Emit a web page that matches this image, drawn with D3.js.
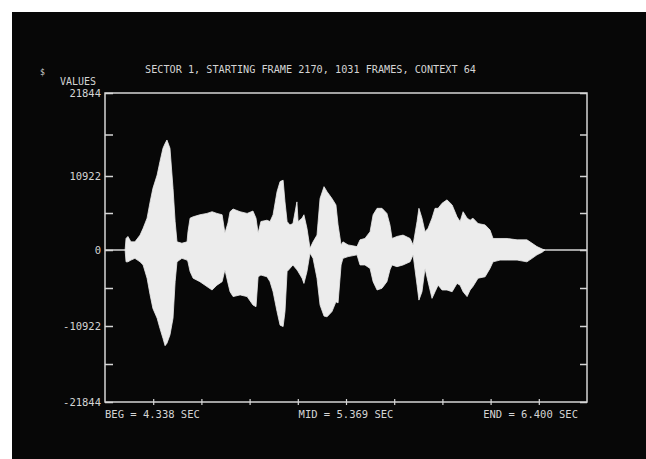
<!DOCTYPE html>
<html>
<head>
<meta charset="utf-8">
<script src="https://cdn.jsdelivr.net/npm/d3@7"></script>
<style>
  html, body { margin: 0; padding: 0; background: #fff; overflow: hidden; }
  svg { display: block; }
  text { font-family: "DejaVu Sans Mono", "Liberation Mono", monospace; fill: #d4d4d4; -webkit-font-smoothing: antialiased; }
</style>
</head>
<body>
<script>
// waveform envelope (seconds, sample values)
var times = [4.424, 4.428, 4.436, 4.449, 4.466, 4.488, 4.501, 4.518, 4.531, 4.543, 4.561, 4.573, 4.586, 4.595, 4.603,
  4.616, 4.629, 4.638, 4.646, 4.667, 4.689, 4.693, 4.702, 4.715, 4.744, 4.774, 4.796, 4.817, 4.839, 4.851, 4.864,
  4.873, 4.886, 4.916, 4.946, 4.971, 4.984, 4.993, 5.005, 5.031, 5.044, 5.057, 5.074, 5.087, 5.100, 5.108, 5.117,
  5.129, 5.142, 5.159, 5.164, 5.181, 5.189, 5.202, 5.215, 5.228, 5.245, 5.258, 5.275, 5.288, 5.309, 5.326, 5.335,
  5.348, 5.356, 5.378, 5.416, 5.429, 5.450, 5.472, 5.485, 5.502, 5.523, 5.544, 5.557, 5.566, 5.587, 5.613, 5.643, 5.656,
  5.673, 5.681, 5.694, 5.707, 5.720, 5.737, 5.750, 5.763, 5.780, 5.801, 5.823, 5.844, 5.857, 5.870, 5.887, 5.900,
  5.912, 5.934, 5.964, 5.985, 5.998, 6.028, 6.058, 6.101, 6.143, 6.165, 6.186, 6.208, 6.220];
var upper = [0, 1700, 2000, 1200, 1200, 2200, 3200, 4700, 7100, 9100, 11050, 12800, 14570, 15200, 15660,
  14570, 9100, 4200, 1200, 1000, 1200, 2700, 4700, 4900, 5200, 5400, 5650, 5400, 5200, 2500, 4000,
  5650, 6050, 5650, 5400, 5750, 4700, 2500, 4200, 4400, 4200, 5200, 8600, 10100, 10300, 7100, 4200,
  3700, 3900, 7100, 4200, 4700, 5200, 3200, 250, 1200, 2200, 7600, 9350, 8600, 7600, 6650, 3700,
  750, 1200, 750, 500, 1500, 1700, 2700, 5200, 6150, 6150, 5400, 3700, 1700, 2000, 2200, 1700, 750,
  4200, 6150, 4700, 2700, 3200, 4700, 6150, 6150, 6900, 7400, 6650, 4900, 4200, 5650, 4700, 4400,
  4700, 3900, 3700, 2950, 1700, 1700, 1700, 1500, 1500, 1000, 500, 150, 0];
var lower = [0, -1700, -1700, -1450, -1200, -1700, -2150, -4050, -6450, -8400, -9800, -11250, -12700, -13750, -13400,
  -12200, -9800, -4550, -1700, -1200, -1450, -1700, -3100, -4050, -4550, -5250, -5750, -5050, -4550, -2850, -4750,
  -6000, -6700, -6450, -6700, -7900, -8150, -3850, -3600, -3850, -4550, -6000, -8850, -10800, -11000, -8850, -3100,
  -2650, -2150, -2850, -3100, -4050, -4800, -3100, -450, -1200, -4050, -7900, -9500, -9600, -8850, -7450, -7600,
  -2150, -1200, -950, -700, -2150, -2150, -2650, -4550, -5750, -5500, -4550, -2850, -2150, -2400, -2150, -1700, -700,
  -5050, -7200, -6000, -2650, -4550, -6950, -6000, -5050, -5750, -5750, -6000, -4800, -5050, -6000, -6700, -5750,
  -5250, -4050, -3850, -2650, -1700, -1450, -1450, -1450, -1700, -1200, -700, -330, 0];

var yTickValues = [-21844, -16383, -10922, -5461, 0, 5461, 10922, 16383, 21844];
var yTickLabels = ["-21844", "", "-10922", "", "0", "", "10922", "", "21844"];
var xTickValues = [4.5442, 4.7504, 4.9566, 5.1628, 5.3690, 5.5752, 5.7814, 5.9876, 6.1938];
var xLabels = ["BEG = 4.338 SEC", "MID = 5.369 SEC", "END = 6.400 SEC"];
var xLabelTimes = [4.338, 5.369, 6.400];
var title = "SECTOR 1, STARTING FRAME 2170, 1031 FRAMES, CONTEXT 64";

var W = 646, H = 459;
var lineColor = "#d6d6d6";

var svg = d3.select("body").append("svg")
    .attr("width", W)
    .attr("height", H);

// photo of the crt: black screen, white margin top/left
svg.append("rect")
    .attr("x", 12).attr("y", 12)
    .attr("width", W + 40).attr("height", H + 40)
    .attr("fill", "#070707");

var xScale = d3.scaleLinear().domain([4.338, 6.400]).range([105, 587]);
// screen is slightly bent, so use the tick rows as they appear
var yScale = d3.scaleLinear()
    .domain([-21844, -10922, 0, 10922, 21844])
    .range([402, 326, 250, 176, 93]);

// zero trace
svg.append("line")
    .attr("x1", xScale(4.338)).attr("x2", xScale(6.400))
    .attr("y1", yScale(0)).attr("y2", yScale(0))
    .attr("stroke", lineColor)
    .attr("stroke-width", 1.5);

var area = d3.area()
    .x(function(d, i) { return xScale(times[i]); })
    .y0(function(d, i) { return yScale(lower[i]); })
    .y1(function(d, i) { return yScale(upper[i]); });

svg.append("path")
    .datum(times)
    .attr("d", area)
    .attr("fill", "#ececec")
    .attr("stroke", "#ececec")
    .attr("stroke-width", 0.8);

// frame
svg.append("rect")
    .attr("x", xScale(4.338)).attr("y", yScale(21844))
    .attr("width", xScale(6.400) - xScale(4.338))
    .attr("height", yScale(-21844) - yScale(21844))
    .attr("fill", "none")
    .attr("stroke", lineColor)
    .attr("stroke-width", 1.5);

var yAxis = d3.axisLeft(yScale)
    .tickValues(yTickValues)
    .tickSize(-8)
    .tickPadding(4)
    .tickFormat(function(d, i) { return yTickLabels[i]; });

var gy = svg.append("g")
    .attr("transform", "translate(" + xScale(4.338) + ",0)")
    .attr("color", lineColor)
    .call(yAxis);
gy.select(".domain").remove();
gy.selectAll("line").attr("stroke", lineColor).attr("stroke-width", 1.5);
gy.selectAll("text")
    .attr("font-size", "10.5px")
    .attr("fill", "#d4d4d4")
    .attr("font-family", "'DejaVu Sans Mono', monospace");

var gyr = svg.append("g")
    .attr("transform", "translate(" + xScale(6.400) + ",0)")
    .call(d3.axisRight(yScale).tickValues(yTickValues).tickSize(-7).tickFormat(""));
gyr.select(".domain").remove();
gyr.selectAll("line").attr("stroke", lineColor).attr("stroke-width", 1.5);

// little crosses on the time axis
[d3.axisBottom(xScale), d3.axisTop(xScale)].forEach(function(ax) {
  var g = svg.append("g")
      .attr("transform", "translate(0," + yScale(-21844) + ")")
      .call(ax.tickValues(xTickValues).tickSize(3).tickFormat(""));
  g.select(".domain").remove();
  g.selectAll("line").attr("stroke", lineColor).attr("stroke-width", 1.2);
});

var anchors = ["start", "middle", "end"];
var offsets = [0, 0, -9];
svg.selectAll(".xlab")
    .data(xLabels)
  .enter().append("text")
    .attr("class", "xlab")
    .attr("x", function(d, i) { return xScale(xLabelTimes[i]) + offsets[i]; })
    .attr("y", 418)
    .attr("font-size", "10.5px")
    .style("text-anchor", function(d, i) { return anchors[i]; })
    .text(function(d) { return d; });

svg.append("text")
    .attr("x", 145)
    .attr("y", 73)
    .attr("font-size", "10.5px")
    .attr("textLength", 331)
    .attr("lengthAdjust", "spacingAndGlyphs")
    .text(title);

svg.append("text")
    .attr("x", 96)
    .attr("y", 85)
    .attr("font-size", "10px")
    .style("text-anchor", "end")
    .text("VALUES");

svg.append("text")
    .attr("x", 40)
    .attr("y", 75)
    .attr("font-size", "8px")
    .text("$");
</script>
</body>
</html>
